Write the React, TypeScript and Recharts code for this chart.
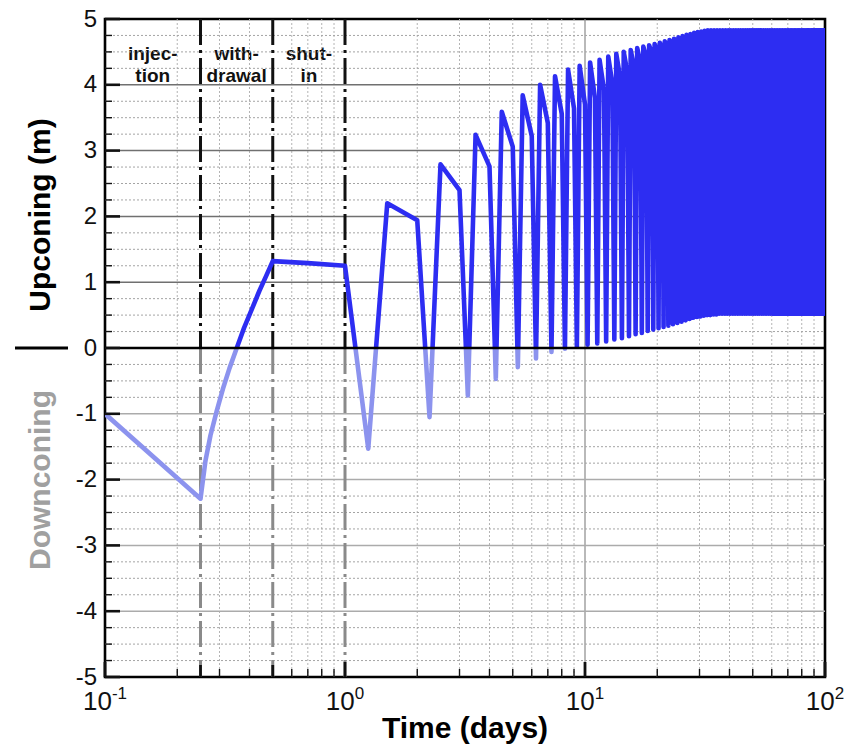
import React from 'react';
import { LineChart, Line, XAxis, YAxis, ReferenceLine, ReferenceArea } from 'recharts';

const FONT = '"Liberation Sans", Arial, Helvetica, sans-serif';
const DARK = '#2d2df2';
const LIGHT = '#8c93ee';

// Initial injection / withdrawal / shut-in period (time in days, upconing in m)
const initTimes = [0.1, 0.25, 0.262, 0.275, 0.292, 0.31, 0.33, 0.354, 0.38, 0.41, 0.44, 0.47, 0.5, 0.7, 1.0];
const initValues = [-1.0, -2.29, -1.72, -1.33, -0.96, -0.62, -0.31, 0.0, 0.31, 0.6, 0.87, 1.1, 1.32, 1.29, 1.25];

// Daily cycles, day n = 1..99: value at n+0.25 (end of injection),
// n+0.5 (end of withdrawal), n+1 (end of shut-in)
const phaseOffsets = [0.25, 0.5, 1.0];
const cycleTrough = [
  -1.53, -1.05, -0.72, -0.47, -0.29, -0.16, -0.06, -0.01, 0.02, 0.05,
  0.07, 0.10, 0.13, 0.15, 0.18, 0.21, 0.23, 0.26, 0.28, 0.30,
  0.32, 0.34, 0.36, 0.38, 0.40, 0.42, 0.44, 0.46, 0.47, 0.48,
  0.49, 0.50, 0.50, 0.51, 0.51, 0.52, 0.52, 0.52, 0.52, 0.52,
  0.52, 0.52, 0.52, 0.52, 0.52, 0.52, 0.52, 0.52, 0.52, 0.52,
  0.52, 0.52, 0.52, 0.52, 0.52, 0.52, 0.52, 0.52, 0.52, 0.52,
  0.52, 0.52, 0.52, 0.52, 0.52, 0.52, 0.52, 0.52, 0.52, 0.52,
  0.52, 0.52, 0.52, 0.52, 0.52, 0.52, 0.52, 0.52, 0.52, 0.52,
  0.52, 0.52, 0.52, 0.52, 0.52, 0.52, 0.52, 0.52, 0.52, 0.52,
  0.52, 0.52, 0.52, 0.52, 0.52, 0.52, 0.52, 0.52, 0.52,
];
const cyclePeak = [
  2.20, 2.79, 3.24, 3.59, 3.84, 4.00, 4.13, 4.23, 4.29, 4.34,
  4.38, 4.43, 4.47, 4.50, 4.53, 4.56, 4.58, 4.60, 4.62, 4.64,
  4.66, 4.68, 4.70, 4.72, 4.74, 4.76, 4.77, 4.79, 4.80, 4.81,
  4.82, 4.83, 4.83, 4.83, 4.83, 4.83, 4.83, 4.83, 4.83, 4.83,
  4.83, 4.83, 4.83, 4.83, 4.83, 4.83, 4.83, 4.83, 4.83, 4.83,
  4.83, 4.83, 4.83, 4.83, 4.83, 4.83, 4.83, 4.83, 4.83, 4.83,
  4.83, 4.83, 4.83, 4.83, 4.83, 4.83, 4.83, 4.83, 4.83, 4.83,
  4.83, 4.83, 4.83, 4.83, 4.83, 4.83, 4.83, 4.83, 4.83, 4.83,
  4.83, 4.83, 4.83, 4.83, 4.83, 4.83, 4.83, 4.83, 4.83, 4.83,
  4.83, 4.83, 4.83, 4.83, 4.83, 4.83, 4.83, 4.83, 4.83,
];
const cycleEnd = [
  1.94, 2.40, 2.76, 3.06, 3.22, 3.42, 3.56, 3.64, 3.70, 3.80,
  3.92, 4.02, 4.12, 4.20, 4.28, 4.35, 4.42, 4.48, 4.52, 4.56,
  4.60, 4.63, 4.66, 4.69, 4.71, 4.73, 4.75, 4.77, 4.78, 4.79,
  4.80, 4.81, 4.81, 4.81, 4.81, 4.81, 4.81, 4.81, 4.81, 4.81,
  4.81, 4.81, 4.81, 4.81, 4.81, 4.81, 4.81, 4.81, 4.81, 4.81,
  4.81, 4.81, 4.81, 4.81, 4.81, 4.81, 4.81, 4.81, 4.81, 4.81,
  4.81, 4.81, 4.81, 4.81, 4.81, 4.81, 4.81, 4.81, 4.81, 4.81,
  4.81, 4.81, 4.81, 4.81, 4.81, 4.81, 4.81, 4.81, 4.81, 4.81,
  4.81, 4.81, 4.81, 4.81, 4.81, 4.81, 4.81, 4.81, 4.81, 4.81,
  4.81, 4.81, 4.81, 4.81, 4.81, 4.81, 4.81, 4.81, 4.81,
];

const xDecades = [0.1, 1, 10, 100];
const xMinor = [0.2, 0.3, 0.4, 0.6, 0.7, 0.8, 0.9, 2, 3, 4, 5, 6, 7, 8, 9, 20, 30, 40, 50, 60, 70, 80, 90];
const phaseBounds = [0.25, 0.5, 1];
const xTicks = [0.1, 0.2, 0.25, 0.3, 0.4, 0.5, 0.6, 0.7, 0.8, 0.9, 1, 2, 3, 4, 5, 6, 7, 8, 9, 10, 20, 30, 40, 50, 60, 70, 80, 90, 100];
const yMajor = [-5, -4, -3, -2, -1, 0, 1, 2, 3, 4, 5];
const yMinor = yMajor.slice(0, -1).flatMap((v) => [v + 0.25, v + 0.5, v + 0.75]);
const yTicks = [...yMajor, ...yMinor].sort((a, b) => a - b);

const phases = [
  { from: 0.1, to: 0.25, lines: ['injec-', 'tion'] },
  { from: 0.25, to: 0.5, lines: ['with-', 'drawal'] },
  { from: 0.5, to: 1, lines: ['shut-', 'in'] },
];

const data: { t: number; y: number }[] = [];
initTimes.forEach((t, i) => data.push({ t, y: initValues[i] }));
cycleTrough.forEach((_, i) => {
  const day = i + 1;
  data.push({ t: day + phaseOffsets[0], y: cycleTrough[i] });
  data.push({ t: day + phaseOffsets[1], y: cyclePeak[i] });
  data.push({ t: day + phaseOffsets[2], y: cycleEnd[i] });
});
const maxY = Math.max(...data.map((d) => d.y));
const minY = Math.min(...data.map((d) => d.y));
const zeroOffset = maxY / (maxY - minY);

const TICK_MARGIN = 8;

const YTick = (props: any) => {
  const { x, y, payload } = props;
  const v = payload.value;
  const major = Number.isInteger(v);
  const ax = x + TICK_MARGIN;
  return (
    <g>
      <line x1={ax} x2={ax + (major ? 15 : 7)} y1={y} y2={y} stroke="#111" strokeWidth={major ? 2.6 : 1.4} />
      {major && (
        <text x={x} y={y - 1} textAnchor="end" dominantBaseline="central" fontSize={24} fontFamily={FONT} fill="#111">
          {String(v)}
        </text>
      )}
    </g>
  );
};

const XTick = (props: any) => {
  const { x, y, payload } = props;
  const v = payload.value;
  const ay = y - TICK_MARGIN;
  const decade = xDecades.includes(v);
  const bound = phaseBounds.includes(v);
  const len = decade ? 15 : bound ? 12 : 8;
  const w = decade || bound ? 2.8 : 1.4;
  const exp = Math.round(Math.log10(v));
  return (
    <g>
      <line x1={x} x2={x} y1={ay} y2={ay - len} stroke="#111" strokeWidth={w} />
      {decade && (
        <text x={x} y={ay + 33} textAnchor="middle" fontFamily={FONT} fill="#111">
          <tspan fontSize={26}>10</tspan>
          <tspan fontSize={17} dy={-11}>{String(exp)}</tspan>
        </text>
      )}
    </g>
  );
};

const YLabel = (props: any) => {
  const vb = props.viewBox || { x: 0, y: 19, width: 105, height: 658 };
  const zero = vb.y + vb.height / 2;
  const cx = 39;
  return (
    <g>
      <text
        x={cx}
        y={zero - 133}
        transform={`rotate(-90 ${cx} ${zero - 133})`}
        textAnchor="middle"
        dominantBaseline="central"
        fontSize={30}
        fontWeight="bold"
        fontFamily={FONT}
        fill="#000"
      >
        Upconing (m)
      </text>
      <text
        x={cx}
        y={zero + 132}
        transform={`rotate(-90 ${cx} ${zero + 132})`}
        textAnchor="middle"
        dominantBaseline="central"
        fontSize={30}
        fontWeight="bold"
        fontFamily={FONT}
        fill="#a0a0a0"
      >
        Downconing
      </text>
      <line x1={15} x2={68} y1={zero} y2={zero} stroke="#000" strokeWidth={3} />
    </g>
  );
};

const XLabel = (props: any) => {
  const vb = props.viewBox || { x: 105, y: 677, width: 720, height: 69 };
  return (
    <text
      x={vb.x + vb.width / 2}
      y={vb.y + 61}
      textAnchor="middle"
      fontSize={30}
      fontWeight="bold"
      fontFamily={FONT}
      fill="#000"
    >
      Time (days)
    </text>
  );
};

const phaseLabel = (lines: string[]) => (props: any) => {
  const vb = props.viewBox;
  if (!vb) return null;
  const cx = vb.x + vb.width / 2;
  return (
    <g>
      {lines.map((s, i) => (
        <text
          key={i}
          x={cx}
          y={vb.y + 41 + i * 22}
          textAnchor="middle"
          fontSize={19}
          fontWeight="bold"
          fontFamily={FONT}
          fill="#111"
        >
          {s}
        </text>
      ))}
    </g>
  );
};

export default function App() {
  return (
    <div style={{ position: 'absolute', left: 0, top: 0, background: '#fff' }}>
      <LineChart
        width={846}
        height={746}
        data={data}
        margin={{ top: 19, right: 21, bottom: 0, left: 0 }}
      >
        <defs>
          <linearGradient id="signGrad" x1="0" y1="0" x2="0" y2="1">
            <stop offset={zeroOffset} stopColor={DARK} />
            <stop offset={zeroOffset} stopColor={LIGHT} />
          </linearGradient>
        </defs>
        <XAxis
          dataKey="t"
          type="number"
          scale="log"
          domain={[0.1, 100]}
          allowDataOverflow
          ticks={xTicks}
          interval={0}
          tickSize={0}
          tickMargin={TICK_MARGIN}
          tickLine={false}
          axisLine={false}
          tick={<XTick />}
          height={69}
          label={<XLabel />}
        />
        <YAxis
          type="number"
          domain={[-5, 5]}
          allowDataOverflow
          ticks={yTicks}
          interval={0}
          tickSize={0}
          tickMargin={TICK_MARGIN}
          tickLine={false}
          axisLine={false}
          tick={<YTick />}
          width={105}
          label={<YLabel />}
        />
        {xMinor.map((v) => (
          <ReferenceLine key={`xm${v}`} x={v} stroke="#b4b4b4" strokeWidth={1} strokeDasharray="2 2" />
        ))}
        <ReferenceLine x={10} stroke="#8a8a8a" strokeWidth={1.2} />
        {yMinor.map((v) => (
          <ReferenceLine key={`ym${v}`} y={v} stroke="#a4a4a4" strokeWidth={1} strokeDasharray="2 2" />
        ))}
        {yMajor
          .filter((v) => v !== 0 && Math.abs(v) !== 5)
          .map((v) => (
            <ReferenceLine key={`yM${v}`} y={v} stroke={v > 0 ? '#707070' : '#ababab'} strokeWidth={1.5} />
          ))}
        {phaseBounds.map((b) => (
          <ReferenceLine
            key={`pu${b}`}
            segment={[{ x: b, y: 5 }, { x: b, y: 0 }]}
            stroke="#111"
            strokeWidth={3}
            strokeDasharray="26 5 3 5"
          />
        ))}
        {phaseBounds.map((b) => (
          <ReferenceLine
            key={`pl${b}`}
            segment={[{ x: b, y: 0 }, { x: b, y: -5 }]}
            stroke="#8a8a8a"
            strokeWidth={3}
            strokeDasharray="26 5 3 5"
          />
        ))}
        {phases.map((p, i) => (
          <ReferenceArea
            key={`ph${i}`}
            x1={p.from}
            x2={p.to}
            y1={4}
            y2={5}
            fill="none"
            stroke="none"
            label={phaseLabel(p.lines)}
          />
        ))}
        <Line
          type="linear"
          dataKey="y"
          stroke="url(#signGrad)"
          strokeWidth={4.6}
          dot={false}
          activeDot={false}
          isAnimationActive={false}
          strokeLinejoin="round"
        />
        <ReferenceLine y={0} stroke="#000" strokeWidth={2.6} />
        <ReferenceArea x1={0.1} x2={100} y1={-5} y2={5} fill="none" stroke="#000" strokeWidth={2.6} ifOverflow="visible" />
      </LineChart>
    </div>
  );
}
